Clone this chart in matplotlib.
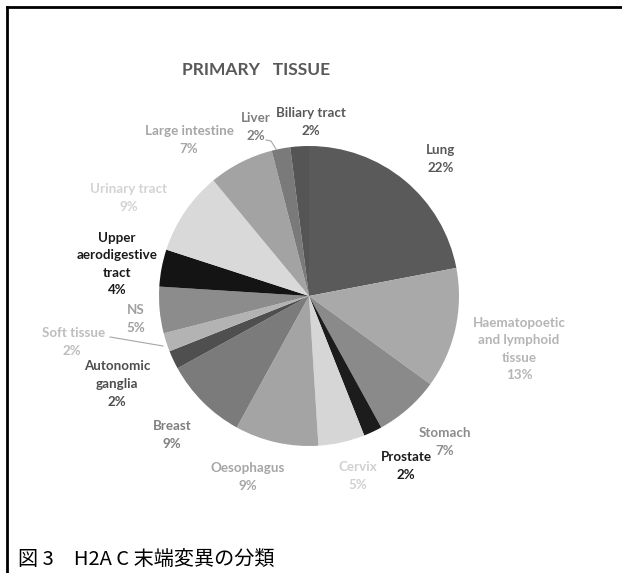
import matplotlib
matplotlib.use("Agg")
import matplotlib.pyplot as plt
from matplotlib.lines import Line2D

W, H = 622, 573
dpi = 100

# data, clockwise from 12 o'clock
tissues = ["Lung", "Haematopoetic\nand lymphoid\ntissue", "Stomach", "Prostate",
           "Cervix", "Oesophagus", "Breast", "Autonomic\nganglia", "Soft tissue",
           "NS", "Upper\naerodigestive\ntract", "Urinary tract", "Large intestine",
           "Liver", "Biliary tract"]
pct = [22, 13, 7, 2, 5, 9, 9, 2, 2, 5, 4, 9, 7, 2, 2]

wedge_colors = ["#5a5a5a", "#a9a9a9", "#8a8a8a", "#1c1c1c", "#d6d6d6", "#a4a4a4",
                "#7b7b7b", "#4f4f4f", "#b3b3b3", "#8c8c8c", "#141414", "#d9d9d9",
                "#a3a3a3", "#7a7a7a", "#555555"]
text_colors = ["#595959", "#b5b5b5", "#8c8c8c", "#1a1a1a", "#d0d0d0", "#a6a6a6",
               "#7f7f7f", "#4d4d4d", "#bdbdbd", "#a0a0a0", "#1a1a1a", "#d3d3d3",
               "#a6a6a6", "#7f7f7f", "#595959"]

# label centres in pixels (from top-left)
label_xy = [(441, 159), (519, 349), (445, 442), (406, 466), (358, 476),
            (248, 477), (172, 435), (117, 384), (74, 342), (136, 319),
            (117, 264), (129, 198), (189, 140), (256, 127), (311, 122)]

FS = 9.6


def px(x, y):
    return x, H - y


fig = plt.figure(figsize=(W / dpi, H / dpi), dpi=dpi)
ax = fig.add_axes([0, 0, 1, 1])

cx, cy = px(309, 296)
ax.pie(pct, colors=wedge_colors, startangle=90, counterclock=False,
       center=(cx, cy), radius=150, wedgeprops=dict(linewidth=0))

for name, p, c, (lx, ly) in zip(tissues, pct, text_colors, label_xy):
    kw = dict(ha="center", va="center", color=c, fontsize=FS,
              fontfamily="Lato", fontweight="bold", zorder=5)
    if name == "Soft tissue":
        ax.text(*px(lx, ly - 9), name, **kw)
        ax.text(*px(lx - 2, ly + 9), f"{p}%", **kw)
        continue
    ax.text(*px(lx, ly), f"{name}\n{p}%", linespacing=1.55, **kw)

# leader lines
ax.plot(*zip(px(110, 337), px(163, 346)), color="#a6a6a6", lw=0.8)
ax.plot(*zip(px(266, 140), px(271, 141), px(276, 149)), color="#a6a6a6", lw=0.8)

ax.text(*px(256, 70), "PRIMARY   TISSUE", ha="center", va="center",
        color="#595959", fontsize=12.5, fontfamily="Lato", fontweight="bold")

ax.set_xlim(0, W)
ax.set_ylim(0, H)
ax.set_aspect("auto")
ax.axis("off")

# frame (top and left only)
fig.add_artist(Line2D([7 / W, 7 / W], [0, 1 - 7 / H], color="black", lw=2,
                      transform=fig.transFigure))
fig.add_artist(Line2D([7 / W, 1], [1 - 7 / H, 1 - 7 / H], color="black", lw=2,
                      transform=fig.transFigure))

fig.text(18 / W, 1 - 559 / H, "図 3　H2A C 末端変異の分類", ha="left", va="center",
         fontsize=14.5, family=["Noto Sans CJK JP", "DejaVu Sans"], color="black")

fig.savefig("out.png", dpi=dpi)
